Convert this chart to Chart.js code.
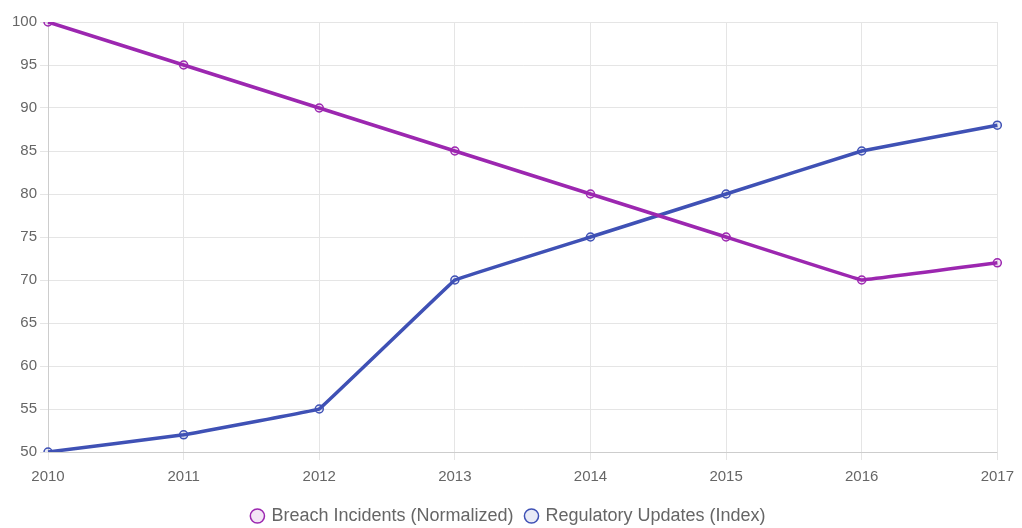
<!DOCTYPE html>
<html>
<head>
<meta charset="utf-8">
<script src="https://cdn.jsdelivr.net/npm/chart.js@4"></script>
<style>
  html, body { margin: 0; padding: 0; background: #fff; }
  #wrap { width: 1022px; height: 528px; }
</style>
</head>
<body>
<div id="wrap"><canvas id="trendChart"></canvas></div>
<script>
const years = ["2010", "2011", "2012", "2013", "2014", "2015", "2016", "2017"];
const breachIncidents = [100, 95, 90, 85, 80, 75, 70, 72];
const regulatoryUpdates = [50, 52, 55, 70, 75, 80, 85, 88];

Chart.defaults.font.family = "'Liberation Sans', Arial, sans-serif";
Chart.defaults.color = "#666";

new Chart(document.getElementById("trendChart"), {
  type: "line",
  data: {
    labels: years,
    datasets: [
      {
        label: "Breach Incidents (Normalized)",
        data: breachIncidents,
        borderColor: "#9c27b0",
        backgroundColor: "rgba(156, 39, 176, 0.12)",
        borderWidth: 3.5,
        pointRadius: 4,
        pointBorderWidth: 1.5,
        tension: 0.02,
      },
      {
        label: "Regulatory Updates (Index)",
        data: regulatoryUpdates,
        borderColor: "#3f51b5",
        backgroundColor: "rgba(63, 81, 181, 0.12)",
        borderWidth: 3.5,
        pointRadius: 4,
        pointBorderWidth: 1.5,
        tension: 0.02,
      },
    ],
  },
  options: {
    responsive: true,
    maintainAspectRatio: false,
    animation: false,
    layout: { padding: { left: 9, right: 13, top: 22, bottom: -7 } },
    scales: {
      x: {
        grid: { color: "#e5e5e5" },
        ticks: { font: { size: 15 }, padding: 8 },
      },
      y: {
        min: 50,
        max: 100,
        ticks: { stepSize: 5, font: { size: 15 } },
        grid: { color: "#e5e5e5" },
      },
    },
    plugins: {
      legend: {
        position: "bottom",
        labels: { usePointStyle: true, boxWidth: 10, boxHeight: 10, font: { size: 18 }, padding: 13 },
      },
    },
  },
});
</script>
</body>
</html>
